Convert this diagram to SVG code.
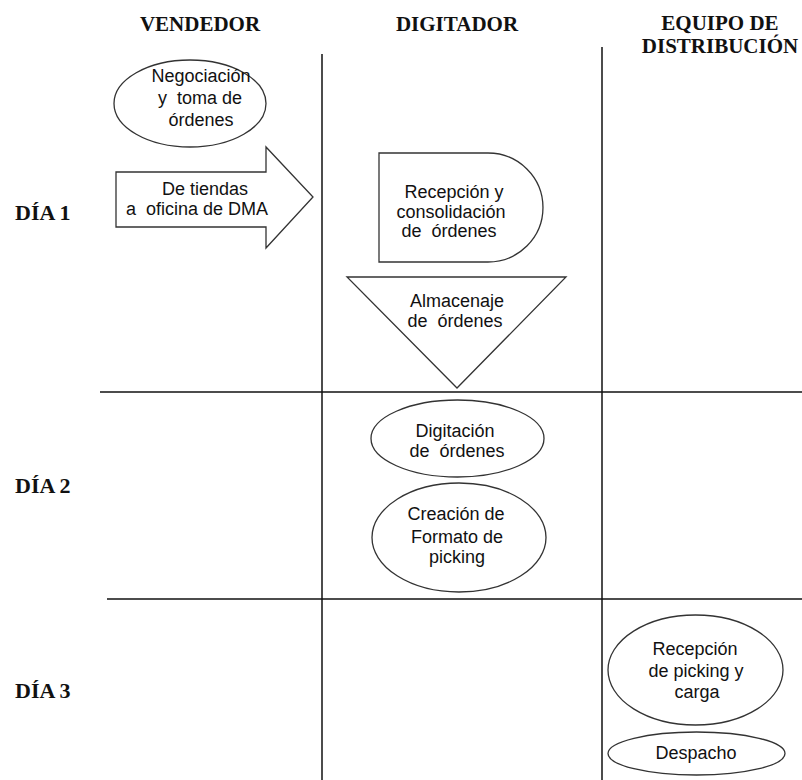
<svg xmlns="http://www.w3.org/2000/svg" width="802" height="780" viewBox="0 0 802 780">
<style>
.hdr{font-family:"Liberation Serif","Times New Roman",serif;font-weight:bold;font-size:21px;fill:#111;text-anchor:middle}
.day{font-family:"Liberation Serif","Times New Roman",serif;font-weight:bold;font-size:22px;fill:#111}
.t{font-family:"Liberation Sans",Arial,sans-serif;font-size:18px;fill:#111;text-anchor:middle;white-space:pre}
.shp{fill:#fff;stroke:#333;stroke-width:1.3}
.ln{stroke:#111;stroke-width:1.5;fill:none}
</style>
<rect width="802" height="780" fill="#fff"/>
<g id="grid">
<line class="ln" x1="322" y1="54" x2="322" y2="780"/>
<line class="ln" x1="602" y1="47" x2="602" y2="780"/>
<line class="ln" x1="100" y1="392" x2="802" y2="392"/>
<line class="ln" x1="107" y1="599" x2="802" y2="599"/>
</g>
<g id="headers">
<text class="hdr" x="200" y="31">VENDEDOR</text>
<text class="hdr" x="457" y="31">DIGITADOR</text>
<text class="hdr" x="720" y="30">EQUIPO DE</text>
<text class="hdr" x="720" y="53">DISTRIBUCIÓN</text>
<text class="day" x="15" y="220">DÍA 1</text>
<text class="day" x="15" y="493">DÍA 2</text>
<text class="day" x="15" y="698">DÍA 3</text>
</g>
<g id="negociacion">
<ellipse class="shp" cx="190" cy="103.5" rx="76" ry="43.5"/>
<text class="t" x="201" y="82">Negociación</text>
<text class="t" x="200" y="104">y  toma de</text>
<text class="t" x="201" y="126">órdenes</text>
</g>
<g id="traslado">
<polygon class="shp" points="116,172 266,172 266,147 313,197 266,248 266,227 116,227"/>
<text class="t" x="205" y="195">De tiendas</text>
<text class="t" x="197" y="215">a  oficina de DMA</text>
</g>
<g id="recepcion">
<path class="shp" d="M379,153 L488,153 A55,54.5 0 0 1 488,262 L379,262 Z"/>
<text class="t" x="454" y="198">Recepción y</text>
<text class="t" x="451" y="218">consolidación</text>
<text class="t" x="449" y="237">de  órdenes</text>
</g>
<g id="almacenaje">
<polygon class="shp" points="347,277 566,277 457,388"/>
<text class="t" x="457" y="307">Almacenaje</text>
<text class="t" x="455" y="327">de  órdenes</text>
</g>
<g id="digitacion">
<ellipse class="shp" cx="457.5" cy="438.5" rx="86.5" ry="38.5"/>
<text class="t" x="455" y="437">Digitación</text>
<text class="t" x="457" y="457">de  órdenes</text>
</g>
<g id="creacion">
<ellipse class="shp" cx="459" cy="537.5" rx="87" ry="54.5"/>
<text class="t" x="456" y="520">Creación de</text>
<text class="t" x="457" y="543">Formato de</text>
<text class="t" x="457" y="563">picking</text>
</g>
<g id="recepcion-picking">
<ellipse class="shp" cx="695.5" cy="670" rx="87.5" ry="55"/>
<text class="t" x="695" y="655">Recepción</text>
<text class="t" x="696" y="677">de picking y</text>
<text class="t" x="697" y="698">carga</text>
</g>
<g id="despacho">
<ellipse class="shp" cx="696.5" cy="753.5" rx="88.5" ry="21.5"/>
<text class="t" x="696" y="759">Despacho</text>
</g>
</svg>
